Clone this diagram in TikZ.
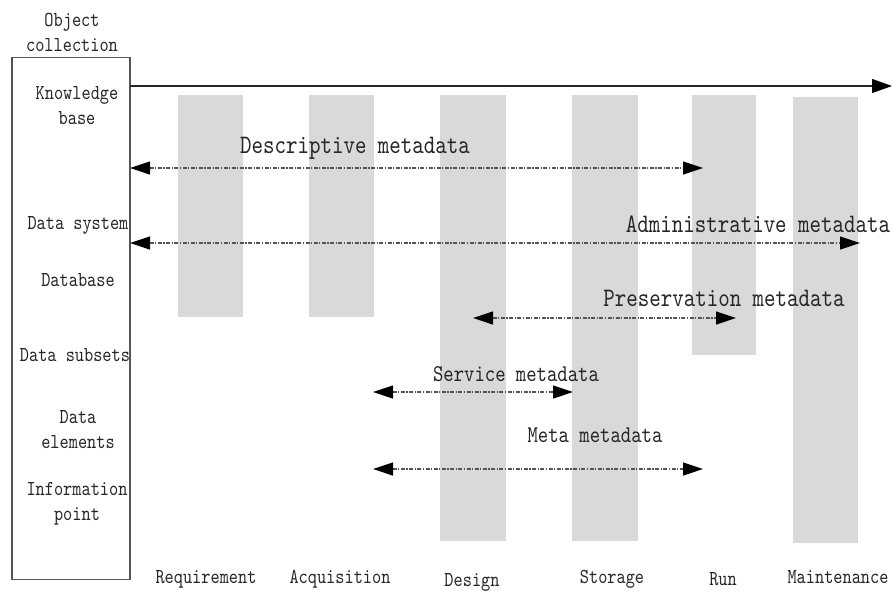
\documentclass[tikz,border=0pt]{standalone}
\usepackage{fontspec}
\usetikzlibrary{arrows.meta}
\definecolor{barfill}{HTML}{D9D9D9}
\definecolor{ink}{HTML}{262626}
\definecolor{rulegray}{HTML}{555555}
% condensed typewriter face for all labels
\newfontfamily\narrowtt[Extension=.otf,FakeStretch=0.82]{lmmono10-regular}

\begin{document}
\begin{tikzpicture}[x=1pt,y=-1pt,
  bar/.style={fill=barfill},
  lbl/.style={text=ink, font=\fontsize{21.3}{25}\narrowtt, inner sep=0pt, align=center},
  biglbl/.style={text=ink, font=\fontsize{26.7}{28}\narrowtt, inner sep=0pt},
  midlbl/.style={text=ink, font=\fontsize{24.1}{26}\narrowtt, inner sep=0pt},
  flow/.style={draw=rulegray, line width=1.2pt,
    dash pattern=on 4pt off 1.5pt on 1.2pt off 1.5pt,
    {Triangle[length=20pt,width=13pt,color=black]}-{Triangle[length=20pt,width=13pt,color=black]}},
  timeline/.style={draw=ink, line width=1.3pt,
    -{Triangle[length=20pt,width=14pt,color=black]}},
  ]
\useasboundingbox (0,0) rectangle (892,590);

% lifecycle phase columns
\fill[bar] (178,95) rectangle (243,317);
\fill[bar] (309,95) rectangle (374,317);
\fill[bar] (440,95) rectangle (506,541);
\fill[bar] (572,95) rectangle (638,541);
\fill[bar] (692,95) rectangle (756,355);
\fill[bar] (793,97) rectangle (858,543);

% object collection box
\node[draw=rulegray, line width=1.3pt, minimum width=118pt, minimum height=522pt,
      inner sep=0pt] (coll) at (71,318.5) {};
\node[lbl] (objcoll) at (72,32) {Object\\collection};
\node[lbl] (kb) at (77,106) {Knowledge\\base};
\node[lbl] (dsys) at (78,225) {Data system};
\node[lbl] (db) at (78,280) {Database};
\node[lbl] (dsub) at (75,355) {Data subsets};
\node[lbl] (delem) at (78,430) {Data\\elements};
\node[lbl] (ipoint) at (77,504) {Information\\point};

% time axis
\coordinate (tlS) at (130,86);
\coordinate (tlE) at (892,86);
\draw[timeline] (tlS) -- (tlE);

% metadata ranges
\coordinate (descL) at (130,168);  \coordinate (descR) at (703,168);
\coordinate (admL) at (130,243);   \coordinate (admR) at (860,243);
\coordinate (presL) at (473,318);  \coordinate (presR) at (736,318);
\coordinate (servL) at (373,392);  \coordinate (servR) at (573,392);
\coordinate (metaL) at (373,469);  \coordinate (metaR) at (703,469);

\draw[flow] (descL) -- (descR);
\draw[flow] (admL) -- (admR);
\draw[flow] (presL) -- (presR);
\draw[flow] (servL) -- (servR);
\draw[flow] (metaL) -- (metaR);

\node[biglbl] (descT) at (355,148) {Descriptive metadata};
\node[biglbl] (admT) at (758,224) {Administrative metadata};
\node[biglbl] (presT) at (724,298) {Preservation metadata};
\node[midlbl] (servT) at (516,374) {Service metadata};
\node[midlbl] (metaT) at (595,435) {Meta metadata};

% phase names
\node[lbl] (pReq) at (206,579) {Requirement};
\node[lbl] (pAcq) at (340,579) {Acquisition};
\node[lbl] (pDes) at (472,582) {Design};
\node[lbl] (pSto) at (612,579) {Storage};
\node[lbl] (pRun) at (723,579) {Run};
\node[lbl] (pMnt) at (838,577) {Maintenance};
\end{tikzpicture}
\end{document}
